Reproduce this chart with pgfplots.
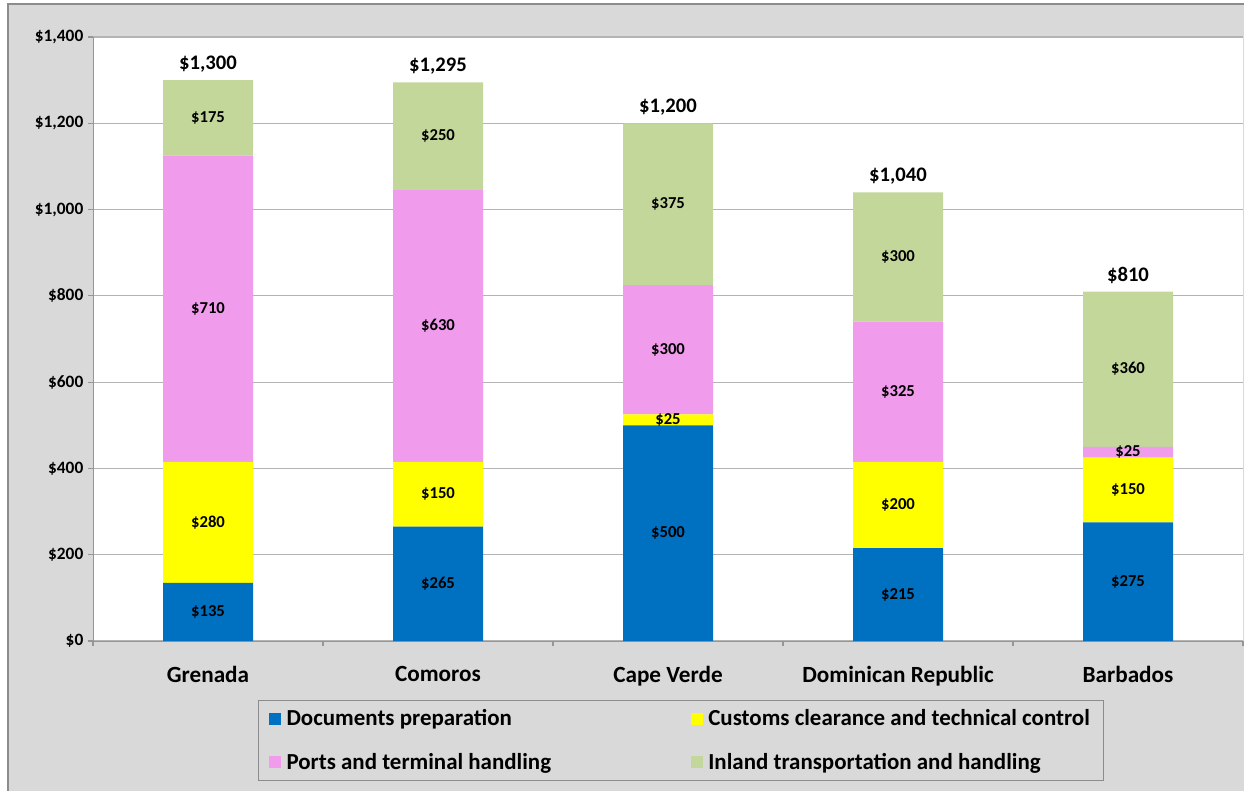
\documentclass[border=0pt]{standalone}
\usepackage{fontspec}
\setmainfont{Carlito}
\usepackage{pgfplots}
\pgfplotsset{compat=1.18}

\definecolor{docblue}{RGB}{0,112,192}
\definecolor{custyellow}{RGB}{255,255,0}
\definecolor{portpink}{RGB}{240,155,235}
\definecolor{inlandgreen}{RGB}{196,215,155}
\definecolor{bggray}{RGB}{217,217,217}
\definecolor{framegray}{RGB}{140,140,140}
\definecolor{gridgray}{RGB}{180,180,180}
\definecolor{axisgray}{RGB}{150,150,150}

% 1 px of the reference = 0.75bp
\pgfplotsset{
  base/.style={
    width=862.5bp, height=453bp, scale only axis,
    xmin=-0.5, xmax=4.5, ymin=0, ymax=1400,
  },
}

\begin{document}
\bfseries
\begin{tikzpicture}
\useasboundingbox (-69.75bp,-112.5bp) rectangle (863.25bp,480.75bp);
\fill[bggray, draw=framegray, line width=1.2bp] (-63.75bp,-115bp) rectangle (866bp,477.75bp);
\fill[white] (0,0) rectangle (862.5bp,453bp);

\begin{axis}[base,
  ybar stacked, bar width=67.5bp,
  axis x line*=bottom, axis y line*=left,
  axis line style={axisgray},
  ytick distance=200,
  ymajorgrids, grid style={gridgray, line width=0.8bp},
  tick align=outside, major tick length=3.75bp,
  tick style={axisgray, line width=0.8bp},
  xtick={0,1,2,3,4},
  xticklabels={Grenada, Comoros, Cape Verde, Dominican Republic, Barbados},
  xtick style={draw=none},
  extra x ticks={-0.5,0.5,1.5,2.5,3.5,4.5},
  extra x tick labels={},
  extra x tick style={xtick style={draw=axisgray}},
  xticklabel style={font=\fontsize{17.4bp}{20bp}\selectfont\bfseries, yshift=-11.5bp},
  yticklabel style={font=\fontsize{13bp}{15bp}\selectfont\bfseries},
  yticklabel={\$\pgfmathprintnumber{\tick}},
  /pgf/number format/.cd, 1000 sep={,}, assume math mode=true, /pgfplots/.cd,
  legend columns=2,
  legend cell align=left,
  legend image code/.code={\fill[#1] (0bp,-4.5bp) rectangle (9bp,4.5bp); \path (11bp,0bp);},
  legend style={
    at={(0.1435,-0.0977)}, anchor=north west,
    fill=bggray, draw=framegray, line width=0.8bp,
    font=\fontsize{17.2bp}{20bp}\selectfont\bfseries,
    inner xsep=8bp, inner ysep=5bp, row sep=15bp,
    /tikz/column 2/.style={column sep=103bp},
  },
]
\addplot[fill=docblue, draw=none] coordinates {(0,135) (1,265) (2,500) (3,215) (4,275)};
\addlegendentry{Documents preparation}
\addplot[fill=custyellow, draw=none] coordinates {(0,280) (1,150) (2,25) (3,200) (4,150)};
\addlegendentry{Customs clearance and technical control}
\addplot[fill=portpink, draw=none] coordinates {(0,710) (1,630) (2,300) (3,325) (4,25)};
\addlegendentry{Ports and terminal handling}
\addplot[fill=inlandgreen, draw=none] coordinates {(0,175) (1,250) (2,375) (3,300) (4,360)};
\addlegendentry{Inland transportation and handling}
\end{axis}

% value labels, set in the middle of each segment and above each bar
\begin{axis}[base, hide axis,
  nodes near coords, point meta=explicit symbolic,
  every node near coord/.append style={anchor=center, inner sep=0pt,
    font=\fontsize{12.5bp}{14bp}\selectfont\bfseries},
]
\addplot[draw=none] coordinates {(0,67.5)[\$135] (1,132.5)[\$265] (2,250)[\$500] (3,107.5)[\$215] (4,137.5)[\$275]};
\addplot[draw=none] coordinates {(0,275)[\$280] (1,340)[\$150] (2,512.5)[\$25] (3,315)[\$200] (4,350)[\$150]};
\addplot[draw=none] coordinates {(0,770)[\$710] (1,730)[\$630] (2,675)[\$300] (3,577.5)[\$325] (4,437.5)[\$25]};
\addplot[draw=none] coordinates {(0,1212.5)[\$175] (1,1170)[\$250] (2,1012.5)[\$375] (3,890)[\$300] (4,630)[\$360]};
\addplot[draw=none, every node near coord/.append style={anchor=south, yshift=6bp,
    font=\fontsize{15.5bp}{17bp}\selectfont\bfseries}]
  coordinates {(0,1300)[\$1,300] (1,1295)[\$1,295] (2,1200)[\$1,200] (3,1040)[\$1,040] (4,810)[\$810]};
\end{axis}
\end{tikzpicture}
\end{document}
